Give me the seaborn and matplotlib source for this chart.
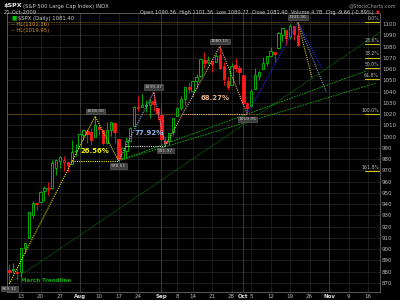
import matplotlib
matplotlib.use("Agg")
import matplotlib.pyplot as plt
import seaborn as sns
import pandas as pd
import numpy as np

# ---------------- data ----------------
dates = ["2009-07-08","2009-07-09","2009-07-10","2009-07-13","2009-07-14","2009-07-15","2009-07-16","2009-07-17",
         "2009-07-20","2009-07-21","2009-07-22","2009-07-23","2009-07-24","2009-07-27","2009-07-28","2009-07-29",
         "2009-07-30","2009-07-31","2009-08-03","2009-08-04","2009-08-05","2009-08-06","2009-08-07","2009-08-10",
         "2009-08-11","2009-08-12","2009-08-13","2009-08-14","2009-08-17","2009-08-18","2009-08-19","2009-08-20",
         "2009-08-21","2009-08-24","2009-08-25","2009-08-26","2009-08-27","2009-08-28","2009-08-31","2009-09-01",
         "2009-09-02","2009-09-03","2009-09-04","2009-09-08","2009-09-09","2009-09-10","2009-09-11","2009-09-14",
         "2009-09-15","2009-09-16","2009-09-17","2009-09-18","2009-09-21","2009-09-22","2009-09-23","2009-09-24",
         "2009-09-25","2009-09-28","2009-09-29","2009-09-30","2009-10-01","2009-10-02","2009-10-05","2009-10-06",
         "2009-10-07","2009-10-08","2009-10-09","2009-10-12","2009-10-13","2009-10-14","2009-10-15","2009-10-16",
         "2009-10-19","2009-10-20","2009-10-21"]
opens = [881.9,881.3,880.0,879.6,900.8,910.2,930.2,940.6,942.1,951.97,953.4,954.1,972.2,978.6,977.7,977.7,
         976.0,986.8,990.2,1001.4,1005.4,1004.1,999.8,1008.9,1005.8,994.0,1005.9,1012.2,998.2,980.6,986.9,996.4,
         1009.1,1026.6,1026.6,1027.4,1027.8,1031.6,1025.2,1019.5,996.1,996.1,1003.8,1018.7,1025.2,1033.0,1043.9,1040.2,
         1049.0,1054.0,1067.9,1066.6,1067.1,1066.4,1072.7,1062.6,1049.5,1045.4,1063.7,1061.0,1054.9,1029.7,1026.9,1042.0,
         1053.7,1060.0,1065.3,1071.6,1075.0,1078.7,1090.4,1094.7,1088.2,1098.6,1090.36]
highs = [886.8,887.9,883.6,901.1,905.8,933.0,943.0,941.9,951.6,956.5,959.8,979.4,979.8,982.5,982.5,977.8,
         996.7,993.2,1003.6,1007.1,1006.6,1008.0,1018.00,1010.1,1005.8,1012.8,1013.1,1012.6,998.2,991.2,999.6,1008.9,
         1027.6,1035.8,1037.8,1032.5,1033.3,1039.47,1025.2,1028.5,1000.3,1003.4,1016.5,1026.1,1036.3,1044.1,1048.2,1049.7,
         1056.0,1068.8,1074.8,1071.5,1067.3,1073.8,1080.15,1066.3,1053.5,1065.1,1069.6,1063.4,1054.9,1030.6,1042.6,1060.6,
         1058.0,1070.7,1071.5,1079.5,1075.3,1093.2,1096.6,1094.7,1100.2,1098.6,1101.36]
lows = [869.32,878.5,872.8,875.3,896.5,910.2,927.4,934.8,940.9,943.2,947.8,953.3,965.9,972.3,969.4,968.6,
        976.0,982.8,990.2,996.7,994.3,992.5,999.8,1001.0,992.4,993.4,1000.8,994.6,978.51,980.6,980.6,996.4,
        1009.1,1022.5,1026.2,1021.6,1016.2,1023.1,1014.6,996.3,991.97,992.3,1001.7,1018.7,1024.0,1028.0,1038.4,1035.0,
        1043.4,1052.9,1061.0,1064.3,1057.5,1066.4,1060.4,1045.9,1041.2,1045.4,1057.8,1046.5,1029.5,1019.95,1025.9,1042.0,
        1050.0,1060.0,1063.0,1071.6,1066.7,1078.7,1085.0,1081.5,1086.5,1086.2,1080.77]
closes = [879.56,882.68,879.13,901.05,905.84,932.68,940.74,940.38,951.13,954.58,954.07,976.29,979.26,982.18,979.62,975.15,
          986.75,987.48,1002.63,1005.65,1002.72,997.08,1010.48,1007.10,994.35,1005.81,1012.73,1004.09,979.73,989.67,996.46,1007.37,
          1026.13,1025.57,1028.00,1028.12,1030.98,1028.93,1020.62,998.04,994.75,1003.24,1016.40,1025.39,1033.37,1044.14,1042.73,1049.34,
          1052.63,1068.76,1065.49,1068.30,1064.66,1071.66,1060.87,1050.78,1044.38,1062.98,1060.61,1057.08,1029.85,1025.21,1040.46,1054.72,
          1057.58,1065.48,1071.49,1076.19,1073.19,1092.02,1096.56,1087.68,1097.91,1091.06,1081.40]

tick_dates = ["2009-07-13","2009-07-20","2009-07-27","2009-08-03","2009-08-10","2009-08-17","2009-08-24","2009-09-01",
              "2009-09-08","2009-09-14","2009-09-21","2009-09-28","2009-10-01","2009-10-05","2009-10-12","2009-10-19",
              "2009-10-26","2009-11-02","2009-11-09","2009-11-16"]
tick_labels = ["13","20","27","Aug","10","17","24","Sep","8","14","21","28","Oct","5","12","19","26","Nov","9","16"]
month_labels = ["Aug","Sep","Oct","Nov"]

hl_levels = [1101.36, 1019.95]
fib_pcts = ["0.0%","23.6%","38.2%","50.0%","61.8%","100.0%","161.8%"]
fib_ratios = [0.0, 0.236, 0.382, 0.5, 0.618, 1.0, 1.618]

# pivot points (date, price)
yellow_pts = [("2009-07-08", 869.32), ("2009-08-07", 1018.00), ("2009-08-17", 978.51)]
lblue_pts = [("2009-08-17", 978.51), ("2009-08-28", 1039.47), ("2009-09-02", 991.97)]
tan_pts = [("2009-09-02", 991.97), ("2009-09-23", 1080.15), ("2009-10-02", 1019.95)]
blue_pts = [("2009-10-02", 1019.95), ("2009-10-21", 1101.36)]
pct_labels = ["26.56%", "77.92%", "68.27%"]

# ---------------- trading calendar ----------------
cal = pd.bdate_range("2009-07-08", "2009-11-30")
cal = cal[cal != pd.Timestamp("2009-09-07")]
pos = {d.strftime("%Y-%m-%d"): i for i, d in enumerate(cal)}

df = pd.DataFrame({"date": dates, "open": opens, "high": highs, "low": lows, "close": closes})
df["x"] = df["date"].map(pos)
prev = df["close"].shift(1).fillna(df["open"])
df["col"] = np.where(df["close"] >= prev, "#00c800", "#ff1a1a")

# ---------------- figure ----------------
sns.set_theme(style="dark", rc={"axes.grid": False})
plt.rcParams["font.family"] = ["DejaVu Sans"]
fig = plt.figure(figsize=(4, 3), dpi=100, facecolor="black")
ax = fig.add_axes([0.0175, 0.0267, 0.9325, 0.93])
ax.set_facecolor("black")
ax.grid(False)
ax.set_xlim(-0.6, 95.05)
ax.set_ylim(862.0, 1109.8)

# grid
for yv in range(870, 1110, 10):
    ax.axhline(yv, color="#262626", lw=0.5, zorder=0)
tick_x = [pos[d] for d in tick_dates]
for tx, tl in zip(tick_x, tick_labels):
    ax.axvline(tx, color="#505050" if tl in month_labels else "#262626", lw=0.5, zorder=0)

for s in ax.spines.values():
    s.set_color("#666666")
    s.set_linewidth(0.6)

# HL lines
for lv in hl_levels:
    ax.axhline(lv, color="#a06a10", lw=0.6, ls=(0, (1, 1)), zorder=1)

# candles
w = 0.62
for _, r in df.iterrows():
    ax.vlines(r["x"], r["low"], r["high"], color=r["col"], lw=0.6, zorder=3)
    lo, hi = min(r["open"], r["close"]), max(r["open"], r["close"])
    h = max(hi - lo, 0.6)
    filled = r["close"] < r["open"]
    ax.bar(r["x"], h, bottom=lo, width=w, color=r["col"] if filled else "black",
           edgecolor=r["col"], linewidth=0.6, zorder=4)

def pts_to_df(pts):
    return pd.DataFrame({"x": [pos[d] for d, _ in pts], "y": [p for _, p in pts]})

def dline(x0, y0, x1, y1, color, lw=0.8, ls=(0, (1, 1)), z=5):
    d = pd.DataFrame({"x": [x0, x1], "y": [y0, y1]})
    sns.lineplot(data=d, x="x", y="y", ax=ax, color=color, lw=lw, ls=ls, zorder=z,
                 sort=False, estimator=None, legend=False)

# green trendlines
dline(0, 870.0, 95.2, 1093.0, "#0a7a0a", lw=0.6, ls=(0, (1, 0.6)), z=2)       # March trendline
dline(pos["2009-08-17"], 978.51, 91.7, 1058.6, "#10b010", lw=0.6, ls=(0, (2, 1.2)), z=2)
dline(pos["2009-08-17"], 978.51, 93.8, 1047.3, "#10b010", lw=0.6, ls=(0, (2, 1.2)), z=2)

# triangles
tri = [(yellow_pts, "#e8e800", "#e8e800"), (lblue_pts, "#8cb4e8", "#dddddd"), (tan_pts, "#e6b48c", "#e6b48c")]
for pts, c, hc in tri:
    d = pts_to_df(pts)
    sns.lineplot(data=d, x="x", y="y", ax=ax, color=c, lw=0.8, ls=(0, (1, 1)), zorder=5,
                 sort=False, estimator=None, legend=False)
    (x0, y0), (x1, y1), (x2, y2) = d.values
    xc = x0 + (y2 - y0) / (y1 - y0) * (x1 - x0)
    dline(xc, y2, x2, y2, hc, lw=0.8)

bd = pts_to_df(blue_pts)
sns.lineplot(data=bd, x="x", y="y", ax=ax, color="#2828ff", lw=0.8, ls=(0, (1, 1)), zorder=5,
             sort=False, estimator=None, legend=False)
px, py = bd["x"].iloc[-1], bd["y"].iloc[-1]
dline(px, py, 80.2, 1060.7, "#2828ff")
dline(px, py, 77.6, 1052.5, "#d8c820")
dline(px, py, 81.3, 1039.5, "#7890b0")

# percentage texts
ax.text(22.0, 987.0, pct_labels[0], color="#f0f000", fontsize=5, fontweight="bold",
        ha="center", va="center", zorder=6)
ax.text(35.8, 1003.2, pct_labels[1], color="#8cb4e8", fontsize=5, fontweight="bold",
        ha="center", va="center", zorder=6)
ax.text(52.7, 1034.3, pct_labels[2], color="#e6b48c", fontsize=5, fontweight="bold",
        ha="center", va="center", zorder=6)

# price boxes
box = dict(boxstyle="square,pad=0.15", fc="#3c3c3c", ec="#6a6a6a", lw=0.4)
def plabel(d, p, above):
    ax.text(pos[d], p + (4.5 if above else -4.5), f"{p:.2f}", color="#cccccc", fontsize=3.2,
            ha="center", va="center", bbox=box, zorder=7)
plabel("2009-07-08", 869.32, False)
plabel("2009-08-07", 1018.00, True)
plabel("2009-08-17", 978.51, False)
plabel("2009-08-28", 1039.47, True)
plabel("2009-09-02", 991.97, False)
plabel("2009-09-23", 1080.15, True)
plabel("2009-10-02", 1019.95, False)
plabel("2009-10-21", 1101.36, True)

# fib levels
hi, lo = hl_levels
for lab, r in zip(fib_pcts, fib_ratios):
    lv = hi - r * (hi - lo)
    dline(91.2, lv, 94.8, lv, "#c8c000", lw=0.8, ls="-", z=6)
    ax.text(94.8, lv + 1.0, lab, color="#bbbbbb", fontsize=3.3, ha="right", va="bottom", zorder=6)

ax.text(3.0, 872.5, "March Trendline", color="#10a010", fontsize=4, fontweight="bold", ha="left",
        va="center", zorder=6)

# ticks
ax.yaxis.tick_right()
ax.set_yticks(range(870, 1110, 10))
ax.set_yticklabels([str(v) for v in range(870, 1110, 10)], color="#bbbbbb", fontsize=4)
ax.set_xticks(tick_x)
ax.set_xticklabels(tick_labels, fontsize=4, color="#bbbbbb")
for t in ax.get_xticklabels():
    if t.get_text() in month_labels:
        t.set_fontweight("bold")
        t.set_color("#dddddd")
ax.tick_params(axis="both", length=0, pad=1.5)
ax.set_xlabel("")
ax.set_ylabel("")

# legend inside plot
ax.text(0.012, 0.99, "\u25A0", transform=ax.transAxes, color="#00c800", fontsize=4, va="top", ha="left")
ax.text(0.03, 0.99, "$SPX (Daily) 1081.40", transform=ax.transAxes, color="#cccccc", fontsize=3.8,
        va="top", ha="left")
ax.text(0.012, 0.967, "-- HL(1101.36)", transform=ax.transAxes, color="#d09020", fontsize=3.8,
        va="top", ha="left")
ax.text(0.012, 0.947, "-- HL(1019.95)", transform=ax.transAxes, color="#d09020", fontsize=3.8,
        va="top", ha="left")

# header
fig.text(0.008, 0.99, "$SPX", color="#eeeeee", fontsize=4.6, fontweight="bold", va="top", ha="left")
fig.text(0.058, 0.988, "(S&P 500 Large Cap Index) INDX", color="#cccccc", fontsize=3.8, va="top", ha="left")
fig.text(0.008, 0.968, "21-Oct-2009", color="#cccccc", fontsize=3.8, va="top", ha="left")
fig.text(0.935, 0.968, "Open 1090.36  High 1101.36  Low 1080.77  Close 1081.40  Volume 4.7B  Chg -9.66 (-0.89%)",
         color="#cccccc", fontsize=3.6, va="top", ha="right")
fig.text(0.94, 0.968, "\u25BC", color="#ff2020", fontsize=3.6, va="top", ha="left")
fig.text(0.99, 0.99, "@StockCharts.com", color="#999999", fontsize=3.6, va="top", ha="right")

fig.savefig("out.png", dpi=100, facecolor="black")
